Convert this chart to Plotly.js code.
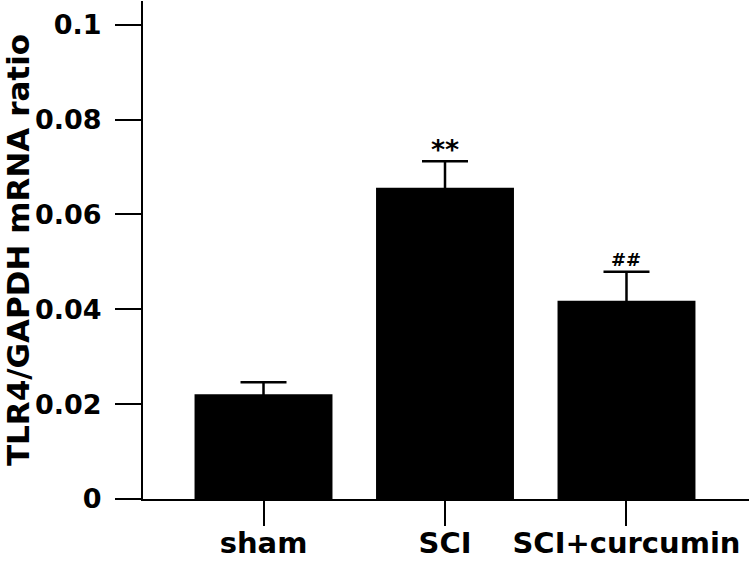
<!DOCTYPE html>
<html>
<head>
<meta charset="utf-8">
<script src="https://cdn.plot.ly/plotly-3.0.1.min.js"></script>
<style>html,body{margin:0;padding:0;background:#fff;}#chart{width:749px;height:566px;}</style>
</head>
<body>
<div id="chart"></div>
<script>
const categories = ["sham", "SCI", "SCI+curcumin"];
const ratioValues = [0.0221, 0.0656, 0.0418];
const ratioErrors = [0.0025, 0.0056, 0.0061];
const significance = ["", "**", "##"];
const yTickValues = [0, 0.02, 0.04, 0.06, 0.08, 0.1];
const yTickLabels = ["0", "0.02", "0.04", "0.06", "0.08", "0.1"];

const trace = {
  type: "bar",
  x: [0, 1, 2],
  y: ratioValues,
  width: 0.76,
  marker: {color: "#000000", line: {width: 0}},
  error_y: {type: "data", array: ratioErrors, visible: true, color: "#000000", thickness: 2.5, width: 23}
};

const annotations = [];
significance.forEach((s, i) => {
  if (!s) return;
  const isStar = s === "**";
  annotations.push({
    x: i, y: ratioValues[i] + ratioErrors[i], xref: "x", yref: "y",
    text: s, showarrow: false, yanchor: "bottom",
    yshift: isStar ? -6 : 0,
    font: isStar ? {family: "DejaVu Sans", size: 27, color: "#000", weight: "bold"}
                 : {family: "DejaVu Sans", size: 18, color: "#000", weight: "bold"}
  });
});

const layout = {
  width: 749, height: 566,
  margin: {l: 143, r: 0, t: 1, b: 67},
  paper_bgcolor: "#fff", plot_bgcolor: "#fff",
  showlegend: false,
  font: {family: "DejaVu Sans", color: "#000"},
  xaxis: {
    range: [-0.664, 2.675],
    tickvals: [0, 1, 2], ticktext: categories,
    showline: true, linecolor: "#000", linewidth: 2,
    ticks: "outside", ticklen: 25, tickwidth: 2, tickcolor: "#000",
    ticklabelstandoff: -8,
    showgrid: false, zeroline: false,
    tickfont: {family: "DejaVu Sans", size: 29, color: "#000", weight: "bold"}
  },
  yaxis: {
    range: [0, 0.105],
    tickvals: yTickValues, ticktext: yTickLabels,
    showline: true, linecolor: "#000", linewidth: 2,
    ticks: "outside", ticklen: 26, tickwidth: 2, tickcolor: "#000",
    ticklabelstandoff: 8,
    showgrid: false, zeroline: false,
    tickfont: {family: "DejaVu Sans", size: 27, color: "#000", weight: "bold"},
    title: {text: "TLR4/GAPDH mRNA ratio", standoff: 8, font: {family: "DejaVu Sans", size: 31, color: "#000", weight: "bold"}}
  },
  annotations: annotations
};

Plotly.newPlot("chart", [trace], layout, {displayModeBar: false, staticPlot: true});
</script>
</body>
</html>
